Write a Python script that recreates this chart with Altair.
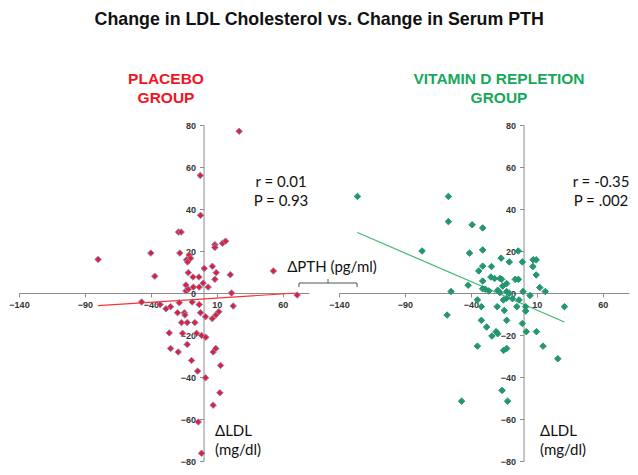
import altair as alt
import pandas as pd

# ---------------- data ----------------
placebo_x = [-80, -47, -40, -37, -33, -28.5, -25, -26, -25, -19, -17, -18, -18.4, -19.7, -19.2,
             -16.7, -15.9, -14.6, -14.1, -13.4, -13.4, -12.9, -12.1, -12.4, -12.4, -11.6, -11.6,
             -10.8, -9.8, -9.1, -8.6, -8, -7.7, -6.6, -5.3, -4.5, -4, -3.5, -3.3, -3.3, -2.5, -2.3,
             -2.3, -1.5, -1.5, -0.3, 0.5, 1.5, 1.5, 1.7, 3.5, 6.6, 6.7, 7.3, 7.3, 8.6, 8.6, 8.6,
             9.6, 9.3, 9.3, 11.6, 12.4, 12.9, 14.4, 16.7, 20.3, 21.2, 22.5, 27, 53, 71]
placebo_y = [16, -4.3, 19, 8, -5.5, -7.5, -6.5, -19, -26.4, 29, 29, 19, -4.6, -9.4, -28.1,
             -14.1, -19.2, -9.4, -10.5, 3.8, 1.0, 15.8, 14.8, -14.1, -24.5, 9.7, 1.8,
             18, 16.5, -32.1, -4.3, 7.6, 2.8, -14.1, -19.2, -37.2, -61.4, 7.6, 2.8, -5.5, 56, 37,
             -9.4, -20.2, -76.3, 4.7, 11.7, -11.3, -40.4, -21.1, 2.8, -12.2, 12.7, -28.1, -53.4, 23, 21.7, 6.5,
             9.7, -10.5, -26.4, -8.9, -47.5, -34.5, 23.7, 24.7, 8.7, 0, -6.2, 77, 10.5, -1]

vitd_x = [-126, -77, -57, -57, -55, -58, -47, -42, -41, -39, -35, -35, -34, -31, -31, -31, -31,
          -31, -32, -32, -29, -28, -26.3, -24.3, -24.8, -24, -22, -20.8, -19.6, -20, -19.6, -18,
          -17, -17.8, -16.6, -16.3, -15.8, -15.3, -15.1, -14.6, -12.8, -12.8, -12.8, -12.8, -12.8,
          -12.1, -10.8, -10.8, -8.4, -6.3, -5.1, -4, -3.9, -3.4, -0.9, -0.9, -0.4, 1.6, 1.6, 2.1,
          4.9, 7.1, 7.3, 9.6, 9.6, 9.8, 12.3, 14.8, 16.5, 26, 31]
vitd_y = [46, 20, 46, 34, 0.7, -10.5, -51.5, 3.7, 19, 32.5, -3.3, -25.3, 10.5, 31, 20.5, 12.8, 5.7,
          2, -6.5, -13, 1.8, -16.2, 1.0, 12.6, 7.6, -20.5, 6.9, -18.4, -19.4, -6.5, 1.3, 0.2,
          16.6, 6.9, 6.5, -46.4, 3.3, -3.3, -27.3, -8.3, 4.5, 0.7, -2.5, -13, -26.4,
          -51.5, 14.8, -0.1, -2.7, 6.5, -6.5, 20, 6.5, -3.3, 14.8, -14.5, 0.7, -6.5, -8.6, -18.4,
          -1.2, 12.6, 15.8, 15.8, 8.6, -18.4, 2.6, -25.3, 0.7, -31.3, -6.5]

# fitted trend lines (end points)
placebo_fit_x = [-80, 71]
placebo_fit_y = [-6, 0]
vitd_fit_x = [-126, 31]
vitd_fit_y = [28.8, -13.8]

x_ticks = [-140, -90, -40, 10, 60]
y_ticks = [-80, -60, -40, -20, 0, 20, 40, 60, 80]
x_domain = [-140, 80]
y_domain = [-80, 80]

title_text = "Change in LDL Cholesterol vs. Change in Serum PTH"
placebo_label = ["PLACEBO", "GROUP"]
vitd_label = ["VITAMIN D REPLETION", "GROUP"]
placebo_stats = ["r = 0.01", "P = 0.93"]
vitd_stats = ["r = -0.35", "P = .002"]
x_label = "\u0394PTH (pg/ml)"
y_label = ["\u0394LDL", "(mg/dl)"]

# ---------------- styling ----------------
W, H = 290, 336
AX = "#8C8C8C"
TICK_FONT = "Liberation Sans"
NOTE_FONT = "Lato"
RED = "#F0141E"
GREEN = "#17A85A"


def one_row():
    return pd.DataFrame({"k": [0]})


def text_layer(txt, x, y, size, color="#111111", font=NOTE_FONT, weight="normal", align="left"):
    return alt.Chart(one_row()).mark_text(
        text=txt, font=font, fontSize=size, fontWeight=weight, color=color,
        align=align, baseline="middle"
    ).encode(x=alt.value(x), y=alt.value(y))


def rule_layer(x1, y1, x2, y2):
    return alt.Chart(one_row()).mark_rule(color="#555555", strokeWidth=1).encode(
        x=alt.value(x1), y=alt.value(y1), x2=alt.value(x2), y2=alt.value(y2))


def panel(xs, ys, fx, fy, fill, stroke, line_color, group_lines, group_color, group_cx,
          stats, ldl_x, extra=None):
    pts = pd.DataFrame({"x": xs, "y": ys})
    fit = pd.DataFrame({"x": fx, "y": fy})
    xsc = alt.Scale(domain=x_domain, nice=False, zero=False)
    ysc = alt.Scale(domain=y_domain, nice=False, zero=False)
    common = dict(title=None, grid=False, domainColor=AX, tickColor=AX, tickSize=4,
                  labelFont=TICK_FONT, labelFontWeight="bold", labelFontSize=9,
                  labelColor="#333333", labelOverlap=False, labelFlush=False)
    x_axis = alt.Axis(values=x_ticks, offset=-H / 2, labelPadding=3, **common)
    y_axis = alt.Axis(values=y_ticks, offset=-W * 140 / 220, labelPadding=4, **common)

    points = alt.Chart(pts).mark_point(
        shape="diamond", filled=True, size=42, fill=fill, stroke=stroke,
        strokeWidth=1, opacity=1
    ).encode(
        x=alt.X("x:Q", scale=xsc, axis=x_axis),
        y=alt.Y("y:Q", scale=ysc, axis=y_axis),
    )
    line = alt.Chart(fit).mark_line(color=line_color, strokeWidth=1.2).encode(
        x=alt.X("x:Q", scale=xsc), y=alt.Y("y:Q", scale=ysc))

    layers = [line, points,
              text_layer(group_lines[0], group_cx, -46, 15.5, group_color, TICK_FONT, "bold", "center"),
              text_layer(group_lines[1], group_cx, -27, 15.5, group_color, TICK_FONT, "bold", "center"),
              text_layer(stats[0], 262, 57, 15, align="center"),
              text_layer(stats[1], 262, 76, 15, align="center"),
              text_layer(y_label[0], ldl_x, 306, 15),
              text_layer(y_label[1], ldl_x, 325, 15)]
    if extra:
        layers += extra
    return alt.layer(*layers).properties(width=W, height=H)


bracket = [
    text_layer(x_label, 313, 142, 15, align="center"),
    rule_layer(280, 158, 338, 158),
    rule_layer(280, 158, 280, 162),
    rule_layer(338, 158, 338, 162),
    rule_layer(309, 154, 309, 158),
]

left = panel(placebo_x, placebo_y, placebo_fit_x, placebo_fit_y, "#E5202E", "#8A84C4", "#FF3030",
             placebo_label, RED, 147, placebo_stats, 196, bracket)
right = panel(vitd_x, vitd_y, vitd_fit_x, vitd_fit_y, "#1E9A6E", "#2A9070", "#3DBB6E",
              vitd_label, GREEN, 160, vitd_stats, 201)

chart = alt.hconcat(left, right, spacing=30, bounds="flush").properties(
    title=alt.TitleParams(title_text, font=TICK_FONT, fontSize=17.8, fontWeight="bold",
                          color="#111111", anchor="middle", offset=43),
    padding={"left": 0, "top": 3, "right": 0, "bottom": 0},
).configure_view(stroke=None)

chart.save("out.html", embed_options={"renderer": "svg", "actions": False})
